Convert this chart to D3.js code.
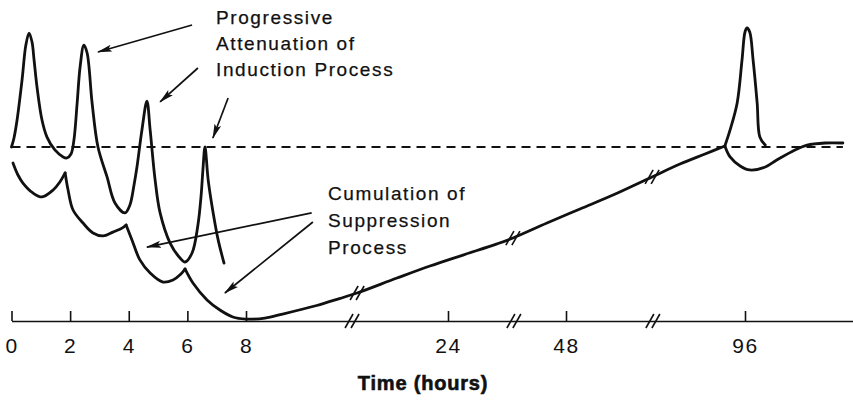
<!DOCTYPE html>
<html>
<head>
<meta charset="utf-8">
<script src="https://cdn.jsdelivr.net/npm/d3@7"></script>
<style>
  html, body { margin: 0; padding: 0; background: #fff; }
  svg { display: block; }
  .lbl { font-family: "Liberation Sans", Arial, Helvetica, sans-serif; fill: #111; }
</style>
</head>
<body>
<svg id="chart" width="853" height="400"></svg>
<script>
// ---------------- DATA (hours, response relative to baseline = 100) ----------------
const tickHours = [0, 2, 4, 6, 8, 24, 48, 96];
const tickLabels = ["0", "2", "4", "6", "8", "24", "48", "96"];
const axisBreakHours = [16.4, 37.4, 71.3];
const curveBreakHours = [16.8, 37.2, 71.1];
const baselineValue = 100;
const baselineHours = [0, 110.5];

// Induction process: repeated peaks that progressively attenuate (0-8 h)
const induction8h = [
  [0.0, 100], [0.085, 105.2], [0.19, 115.5], [0.36, 138.5], [0.49, 158.6], [0.60, 165.5],
  [0.70, 160.3], [0.77, 150], [0.87, 134.5], [1.04, 115.5], [1.21, 105.7], [1.48, 98.3],
  [1.76, 94.3], [1.89, 93.7], [2.03, 96], [2.13, 104], [2.24, 125.3], [2.34, 146],
  [2.47, 158.6], [2.58, 154], [2.75, 125.3], [2.95, 100], [3.26, 82.8], [3.53, 67.8],
  [3.87, 62.1], [4.04, 66.7], [4.18, 78.2], [4.28, 88.5], [4.45, 109.8], [4.62, 126.4],
  [4.73, 109.8], [4.90, 81], [5.07, 62.1], [5.41, 44.8], [5.75, 36.2], [5.92, 33.9],
  [6.16, 39.1], [6.36, 55.2], [6.47, 72.4], [6.53, 86.8], [6.60, 100], [6.71, 81],
  [6.88, 62.1], [7.05, 46.6], [7.25, 33.3]
];
// Induction response after recovery (96 h)
const induction96h = [
  [90.6, 100.6], [92.0, 109.8], [93.9, 125.3], [95.2, 150], [96.0, 166.1], [96.3, 168.4],
  [96.7, 166.1], [97.2, 150], [97.8, 125.3], [98.2, 105.7], [99.0, 101.1]
];
// Suppression process: cumulative, with cusps at each dose
const suppression0 = [[0.05, 90.8], [0.22, 83.9], [0.39, 79.3], [0.73, 73.6], [1.04, 71.3], [1.42, 75.3], [1.65, 79.9], [1.83, 85.1]];
const suppression1 = [[1.83, 85.1], [1.93, 75.3], [2.10, 63.8], [2.44, 56.3], [2.78, 50.6], [3.12, 48.9], [3.46, 51.1], [3.77, 53.4], [3.91, 55.2]];
const suppression2 = [[3.91, 55.2], [4.11, 46.6], [4.38, 35.1], [4.73, 27.6], [5.17, 22.4], [5.51, 23.6], [5.78, 27], [5.92, 29.9]];
const suppression3 = [
  [5.92, 29.9], [6.19, 21.8], [6.67, 12.1], [7.11, 6.3], [7.55, 2.3], [8.0, 1.1], [9.5, 1.7],
  [10.9, 4.0], [13.6, 8.9], [15.4, 12.9], [16.8, 16.1], [19.96, 24.7], [22.57, 31.6],
  [27.05, 37.9], [33.97, 44.3], [37.22, 47.7], [44.13, 56.3], [51.75, 64.4], [60.6, 72.4],
  [71.06, 82.8], [78.57, 90.2], [85.28, 96], [90.6, 100.6]
];
const suppression4 = [
  [90.6, 100.6], [92.0, 94.3], [94.7, 89.1], [96.7, 86.8], [99.0, 88.5], [100.7, 92.5],
  [103.4, 98.3], [105.2, 101.1], [107.9, 102.3], [110.5, 102.3]
];

// ---------------- CHART ----------------
const svg = d3.select("#chart");
const x = d3.scaleLinear().domain([0, 8, 24, 48, 96, 112]).range([11.5, 246, 448, 566, 745, 853]);
const y = d3.scaleLinear().domain([0, 100]).range([321, 147]);

const defs = svg.append("defs");
defs.append("marker")
  .attr("id", "arrow")
  .attr("viewBox", "0 0 15 8")
  .attr("refX", 14).attr("refY", 4)
  .attr("markerWidth", 15).attr("markerHeight", 8)
  .attr("markerUnits", "userSpaceOnUse")
  .attr("orient", "auto")
  .append("path").attr("d", "M0,0.5 L15,4 L0,7.5 L3,4 Z").attr("fill", "#111");

// Dashed baseline
svg.append("line")
  .attr("x1", x(baselineHours[0])).attr("x2", x(baselineHours[1]))
  .attr("y1", y(baselineValue)).attr("y2", y(baselineValue))
  .attr("stroke", "#111").attr("stroke-width", 1.8).attr("stroke-dasharray", "9,6");

// Curves
const line = d3.line().x(d => x(d[0])).y(d => y(d[1])).curve(d3.curveCatmullRom.alpha(0.5));
const curveStyle = sel => sel.attr("fill", "none").attr("stroke", "#111").attr("stroke-width", 2.8)
  .attr("stroke-linejoin", "round").attr("stroke-linecap", "round");

[induction8h, induction96h, suppression0, suppression1, suppression2, suppression3, suppression4]
  .forEach(d => svg.append("path").datum(d).attr("d", line).call(curveStyle));

// Axis
const axisY = y(0);
const axis = d3.axisBottom(x)
  .tickValues(tickHours)
  .tickFormat((d, i) => tickLabels[i])
  .tickSizeInner(-10).tickSizeOuter(0).tickPadding(17);
const gAxis = svg.append("g").attr("transform", `translate(0,${axisY})`).call(axis);
gAxis.select(".domain").attr("stroke", "#111").attr("stroke-width", 1.6);
gAxis.selectAll(".tick line").attr("stroke", "#111").attr("stroke-width", 1.6);
gAxis.selectAll(".tick text")
  .attr("fill", "#111")
  .style("font-family", '"Liberation Sans", Arial, sans-serif')
  .style("font-size", "21px")
  .style("letter-spacing", "1.5px");

// Break marks
function breakMark(cx, cy) {
  [-3, 3].forEach(off => {
    svg.append("line")
      .attr("x1", cx + off - 4).attr("y1", cy + 7)
      .attr("x2", cx + off + 4).attr("y2", cy - 7)
      .attr("stroke", "#111").attr("stroke-width", 1.6);
  });
}
axisBreakHours.forEach(h => breakMark(x(h), axisY));
function interpY(data, h) {
  for (let i = 1; i < data.length; i++) {
    if (data[i][0] >= h) {
      const [h0, v0] = data[i - 1], [h1, v1] = data[i];
      return v0 + (v1 - v0) * (h - h0) / (h1 - h0);
    }
  }
  return data[data.length - 1][1];
}
curveBreakHours.forEach(h => breakMark(x(h), y(interpY(suppression3, h))));

// Annotation arrows (hour, response)
const arrows = [
  [[6.16, 170.1], [2.95, 154.6]],
  [[6.36, 145.4], [5.07, 125.9]],
  [[7.39, 128.2], [6.87, 105.2]],
  [[13.2, 62.1], [4.62, 42.5]],
  [[13.3, 56.9], [7.28, 16.1]]
];
arrows.forEach(([a, b]) => {
  svg.append("line")
    .attr("x1", x(a[0])).attr("y1", y(a[1]))
    .attr("x2", x(b[0])).attr("y2", y(b[1]))
    .attr("stroke", "#111").attr("stroke-width", 1.7)
    .attr("marker-end", "url(#arrow)");
});

// Annotation texts
function multiText(lines, px, py, lh) {
  const t = svg.append("text").attr("class", "lbl")
    .style("font-size", "19px").style("letter-spacing", "1.6px")
    .attr("stroke", "#111").attr("stroke-width", 0.25);
  lines.forEach((s, i) => t.append("tspan").attr("x", px).attr("y", py + i * lh).text(s));
}
multiText(["Progressive", "Attenuation of", "Induction Process"], 216, 24, 26);
multiText(["Cumulation of", "Suppression", "Process"], 328, 200, 27);

// Axis title
svg.append("text").attr("class", "lbl")
  .attr("x", 423).attr("y", 390)
  .attr("text-anchor", "middle")
  .attr("stroke", "#111").attr("stroke-width", 0.6)
  .style("font-size", "20px").style("font-weight", "bold").style("letter-spacing", "0.8px")
  .text("Time (hours)");
</script>
</body>
</html>
